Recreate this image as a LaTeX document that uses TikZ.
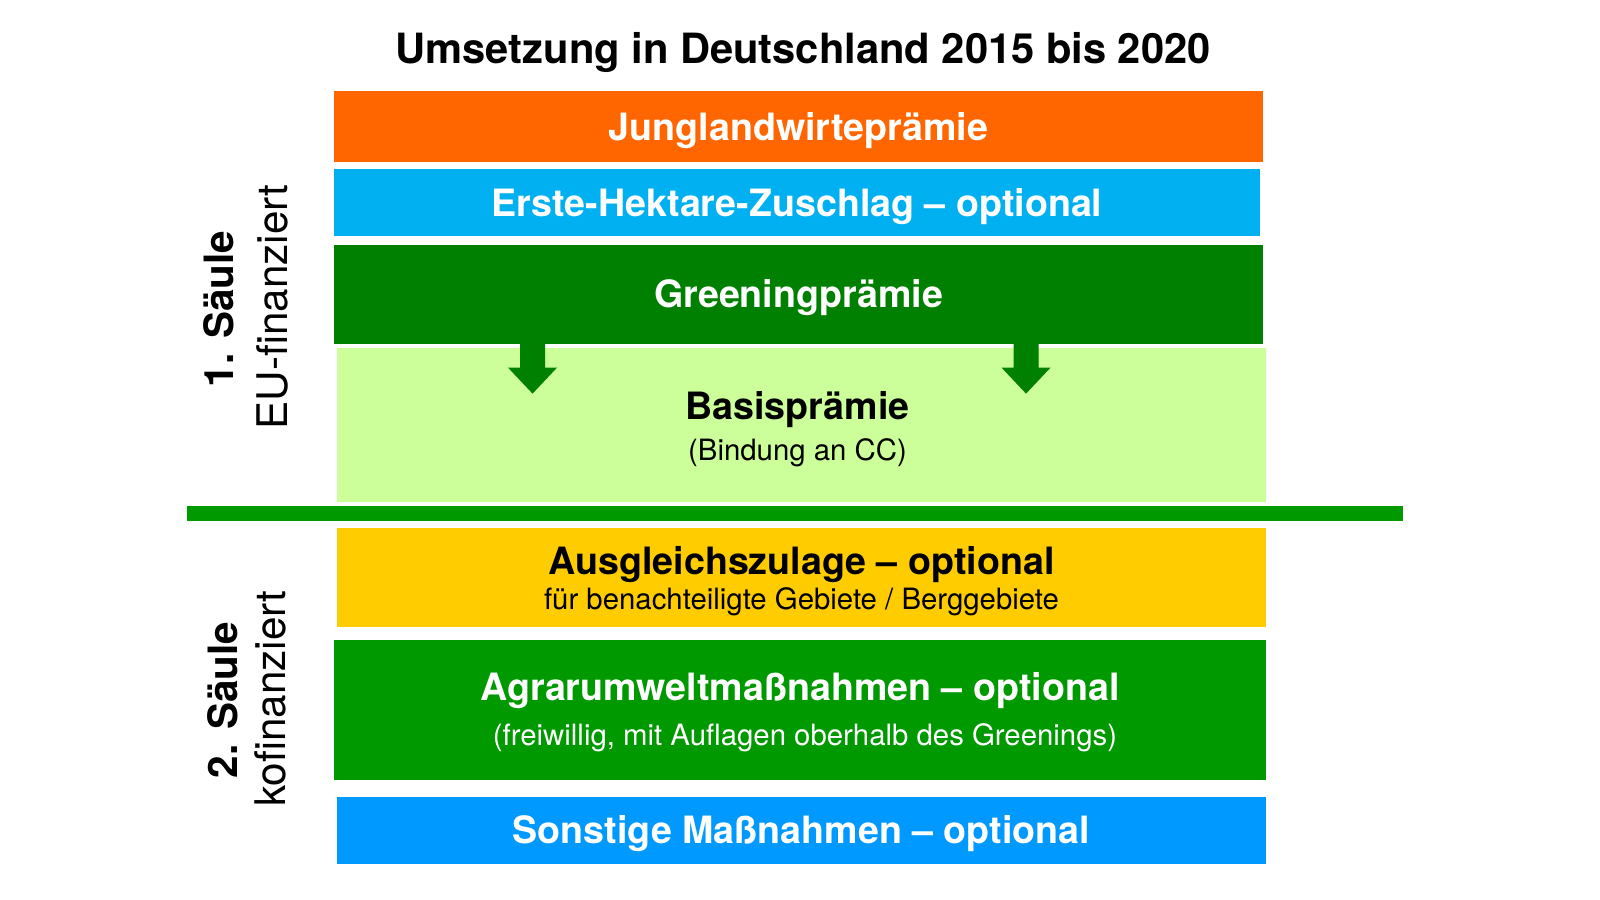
\documentclass[tikz,border=0pt]{standalone}
\usepackage{fontspec}
\setmainfont{TeX Gyre Heros}
\usepackage{xcolor}
\definecolor{juniorOrange}{HTML}{FF6600}
\definecolor{hectareBlue}{HTML}{00B0F0}
\definecolor{greeningDark}{HTML}{008000}
\definecolor{basisLight}{HTML}{CCFF99}
\definecolor{pillarGreen}{HTML}{009900}
\definecolor{lfaYellow}{HTML}{FFCC00}
\definecolor{otherBlue}{HTML}{0099FF}
\usepackage{tikz}
\usetikzlibrary{positioning,calc}
\tikzset{%
  bandBox/.style={%
    rectangle,
    inner sep=0pt,
    minimum width=9.29cm,
    text height=0.27cm,
    text depth=0cm,
    font=\bfseries\fontsize{10.7pt}{12pt}\selectfont,
    text=white
  },
  subText/.style={%
    anchor=base,
    inner sep=0pt,
    font=\fontsize{8.35pt}{10pt}\selectfont
  },
  sideBold/.style={%
    rotate=90,
    anchor=base,
    inner sep=0pt,
    font=\bfseries\fontsize{11.5pt}{13pt}\selectfont
  },
  sideRegular/.style={%
    rotate=90,
    anchor=base,
    inner sep=0pt,
    font=\fontsize{12pt}{14pt}\selectfont
  },
  dividerBar/.style={%
    rectangle,
    inner sep=0pt,
    fill=pillarGreen,
    minimum width=12.16cm,
    minimum height=0.15cm
  },
  greenArrow/.style={%
    fill=greeningDark
  }
}

\begin{document}
\begin{tikzpicture}[x=0.01cm,y=-0.01cm]
    \fill[white] (0,0) rectangle (1600,900);
    \useasboundingbox (0,0) rectangle (1600,900);

    \node[anchor=base, inner sep=0pt, font=\bfseries\fontsize{11.85pt}{13pt}\selectfont] (title) at (803,63) {Umsetzung in Deutschland 2015 bis 2020};

    % 1. Saeule
    \node[bandBox, fill=juniorOrange, minimum height=0.71cm] (junge) at (798.5,126.5) {Junglandwirteprämie};
    \node[bandBox, fill=hectareBlue, minimum width=9.26cm, minimum height=0.67cm, below=0.06cm of junge.south west, anchor=north west] (hektar) {Erste-Hektare-Zuschlag -- optional};
    \node[bandBox, fill=greeningDark, minimum height=0.99cm, below=0.07cm of hektar.south west, anchor=north west] (greening) {Greeningprämie};
    \node[bandBox, fill=basisLight, text=black, minimum height=1.54cm, text depth=0.39cm, below=0.03cm of greening.south west, anchor=north west, xshift=0.03cm] (basis) {\hspace*{-0.08cm}Basisprämie};
    \node[subText, xshift=-0.04cm] (basisSub) at ([yshift=-0.41cm]basis.base) {(Bindung an CC)};

    \coordinate (arrowLeft) at ($(greening.south west)+(199.5,0)$);
    \coordinate (arrowRight) at ($(greening.south west)+(693,0)$);
    \foreach \a in {arrowLeft,arrowRight}
      \fill[greenArrow] (\a) ++(-12.5,-1) -- ++(0,24) -- ++(-12,0) -- ++(24.5,26) -- ++(24.5,-26) -- ++(-12,0) -- ++(0,-24) -- cycle;

    \node[dividerBar] (divider) at (795,513) {};

    % 2. Saeule
    \node[bandBox, fill=lfaYellow, text=black, minimum height=0.99cm, text depth=0.33cm, below=0.24cm of basis.south west, anchor=north west] (ausgleich) {Ausgleichszulage -- optional};
    \node[subText] (ausgleichSub) at ([yshift=-0.35cm]ausgleich.base) {für benachteiligte Gebiete / Berggebiete};
    \node[bandBox, fill=pillarGreen, minimum width=9.32cm, minimum height=1.40cm, text depth=0.46cm, below=0.12cm of ausgleich.south west, anchor=north west, xshift=-0.03cm] (agrar) {Agrarumweltmaßnahmen -- optional};
    \node[subText, text=white, xshift=0.05cm] (agrarSub) at ([yshift=-0.45cm]agrar.base) {(freiwillig, mit Auflagen oberhalb des Greenings)};
    \node[bandBox, fill=otherBlue, minimum height=0.67cm, below=0.15cm of agrar.south west, anchor=north west, xshift=0.03cm] (sonstige) {Sonstige Maßnahmen -- optional};

    \node[sideBold] (firstPillar) at (233,309) {1. Säule};
    \node[sideRegular] (firstFunding) at (287,307) {EU-finanziert};
    \node[sideBold] (secondPillar) at (237,700) {2. Säule};
    \node[sideRegular] (secondFunding) at (285,698.5) {kofinanziert};

\end{tikzpicture}
\end{document}
